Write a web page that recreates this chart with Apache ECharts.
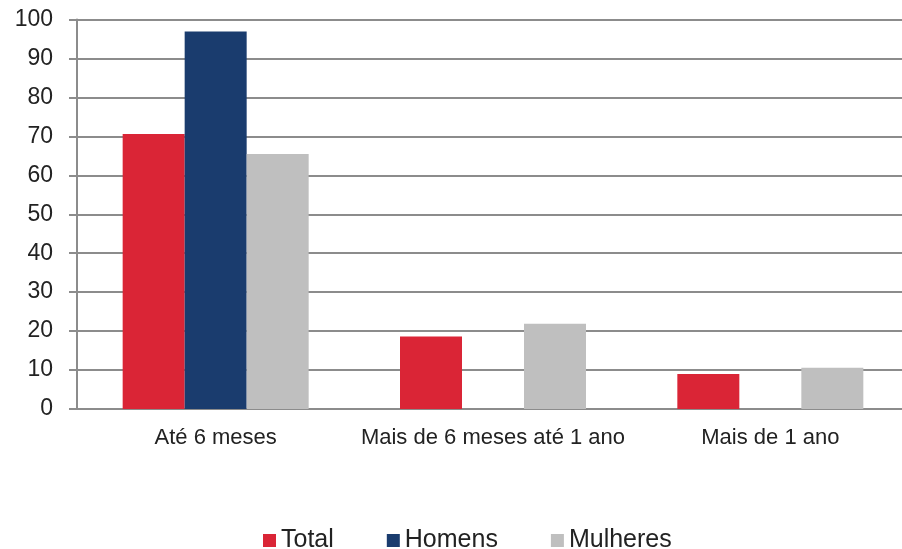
<!DOCTYPE html>
<html>
<head>
<meta charset="utf-8">
<script src="https://cdn.jsdelivr.net/npm/echarts@6/dist/echarts.min.js"></script>
<style>
  html, body { margin: 0; padding: 0; background: #fff; overflow: hidden; }
  #chart { width: 902px; height: 549px; }
</style>
</head>
<body>
<div id="chart"></div>
<script>
var categories = ['Até 6 meses', 'Mais de 6 meses até 1 ano', 'Mais de 1 ano'];
var total = [70.6, 18.6, 9.0];
var homens = [96.9, 0, 0];
var mulheres = [65.5, 21.9, 10.6];

var font = '"Liberation Sans", Arial, sans-serif';
var axisGray = '#8c8c8c';

var chart = echarts.init(document.getElementById('chart'), null, { renderer: 'canvas' });
chart.setOption({
  animation: false,
  grid: { left: 77, right: -7, top: 19.5, bottom: 140, outerBoundsMode: 'none', containLabel: false },
  legend: {
    top: 528,
    left: 263,
    padding: 0,
    itemWidth: 13,
    itemHeight: 13,
    itemGap: 53,
    icon: 'rect',
    textStyle: { fontFamily: font, fontSize: 25, color: '#222' },
    data: ['Total', 'Homens', 'Mulheres']
  },
  xAxis: {
    type: 'category',
    data: categories,
    axisLine: { lineStyle: { color: axisGray, width: 2 } },
    axisTick: { length: 7, lineStyle: { color: axisGray, width: 2 } },
    axisLabel: { fontFamily: font, fontSize: 22, color: '#222', margin: 18, interval: 0 }
  },
  yAxis: {
    type: 'value',
    min: 0,
    max: 100,
    interval: 10,
    axisLine: { show: true, lineStyle: { color: axisGray, width: 2 } },
    axisTick: { show: true, length: 8, lineStyle: { color: axisGray, width: 2 } },
    axisLabel: { fontFamily: font, fontSize: 23, color: '#222', margin: 24 },
    splitLine: { lineStyle: { color: axisGray, width: 2 } }
  },
  series: [
    { name: 'Total', type: 'bar', data: total, barWidth: 62, barGap: '0%',
      itemStyle: { color: '#da2536' } },
    { name: 'Homens', type: 'bar', data: homens, barWidth: 62,
      itemStyle: { color: '#1a3c6e' } },
    { name: 'Mulheres', type: 'bar', data: mulheres, barWidth: 62,
      itemStyle: { color: '#bfbfbf' } }
  ]
});
</script>
</body>
</html>
